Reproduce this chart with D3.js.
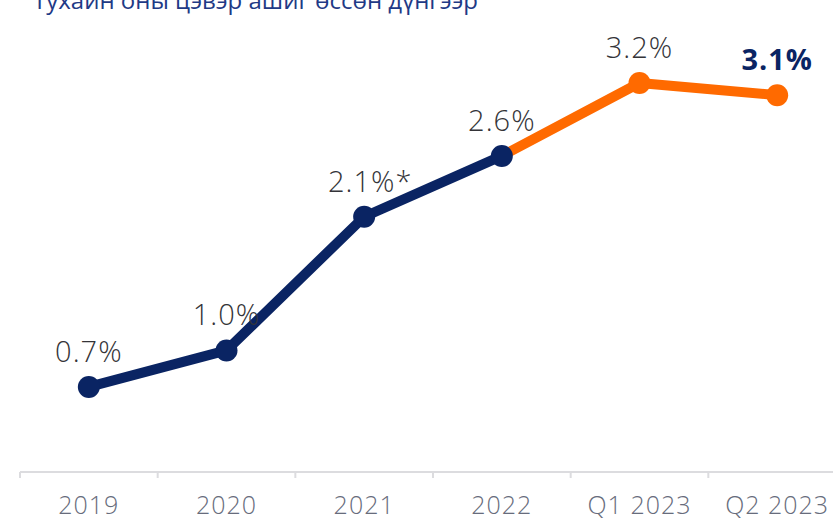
<!DOCTYPE html>
<html>
<head>
<meta charset="utf-8">
<script src="https://cdn.jsdelivr.net/npm/d3@7"></script>
<style>
  body { margin: 0; background: #fff; }
  svg { display: block; font-family: "Open Sans", "DejaVu Sans", sans-serif; }
</style>
</head>
<body>
<div id="chart"></div>
<script>
var categories = ["2019", "2020", "2021", "2022", "Q1 2023", "Q2 2023"];
var values = [0.7, 1.0, 2.1, 2.6, 3.2, 3.1];
var valueLabels = ["0.7%", "1.0%", "2.1%*", "2.6%", "3.2%", "3.1%"];
// index where the forecast (orange) part starts
var splitIndex = 3;
var titleText = "Тухайн оны цэвэр ашиг өссөн дүнгээр";

var NAVY = "#0a2463";
var ORANGE = "#ff6a00";

var width = 833, height = 519;

var svg = d3.select("#chart").append("svg")
    .attr("width", width)
    .attr("height", height);

var x = d3.scaleBand().domain(categories).range([20, 846]).padding(0);
var y = d3.scaleLinear().domain([0, 3.2]).range([472, 83]);

function cx(d) { return x(d) + x.bandwidth() / 2; }

// title (cut off at top in the original)
svg.append("text")
    .attr("x", 33)
    .attr("y", 9)
    .attr("font-size", 24)
    .attr("fill", "#1f3a86")
    .text(titleText);

// x axis
var axis = svg.append("g").attr("class", "x-axis");
axis.append("line")
    .attr("x1", x(categories[0])).attr("x2", width)
    .attr("y1", y(0)).attr("y2", y(0))
    .attr("stroke", "#dcdcdf").attr("stroke-width", 2);
axis.selectAll("line.tick")
    .data(categories)
    .enter().append("line")
    .attr("class", "tick")
    .attr("x1", function (d) { return x(d); })
    .attr("x2", function (d) { return x(d); })
    .attr("y1", y(0)).attr("y2", y(0) + 6)
    .attr("stroke", "#dcdcdf").attr("stroke-width", 2);
axis.selectAll("text")
    .data(categories)
    .enter().append("text")
    .attr("x", cx)
    .attr("y", 514)
    .attr("text-anchor", "middle")
    .attr("font-size", 25)
    .attr("font-weight", 300)
    .attr("letter-spacing", 1)
    .attr("fill", "#676c7c")
    .text(function (d) { return d; });

var pts = categories.map(function (c, i) { return { cat: c, v: values[i], label: valueLabels[i], i: i }; });

var line = d3.line()
    .x(function (d) { return cx(d.cat); })
    .y(function (d) { return y(d.v); });

svg.append("path")
    .datum(pts.slice(splitIndex))
    .attr("d", line)
    .attr("fill", "none")
    .attr("stroke", ORANGE)
    .attr("stroke-width", 10)
    .attr("stroke-linejoin", "round");

svg.append("path")
    .datum(pts.slice(0, splitIndex + 1))
    .attr("d", line)
    .attr("fill", "none")
    .attr("stroke", NAVY)
    .attr("stroke-width", 10)
    .attr("stroke-linejoin", "round");

svg.selectAll("circle.dot")
    .data(pts)
    .enter().append("circle")
    .attr("class", "dot")
    .attr("cx", function (d) { return cx(d.cat); })
    .attr("cy", function (d) { return y(d.v); })
    .attr("r", 11)
    .attr("fill", function (d) { return d.i > splitIndex ? ORANGE : NAVY; });

var last = pts.length - 1;
svg.selectAll("text.val")
    .data(pts)
    .enter().append("text")
    .attr("class", "val")
    .attr("x", function (d) { return cx(d.cat) + (d.label.indexOf("*") > 0 ? 6 : 0); })
    .attr("y", function (d) { return y(d.v) - 25; })
    .attr("text-anchor", "middle")
    .attr("font-size", 29)
    .attr("font-weight", function (d) { return d.i == last ? 700 : 300; })
    .attr("fill", function (d) { return d.i == last ? NAVY : "#343438"; })
    .attr("letter-spacing", 1)
    .text(function (d) { return d.label; });
</script>
</body>
</html>
